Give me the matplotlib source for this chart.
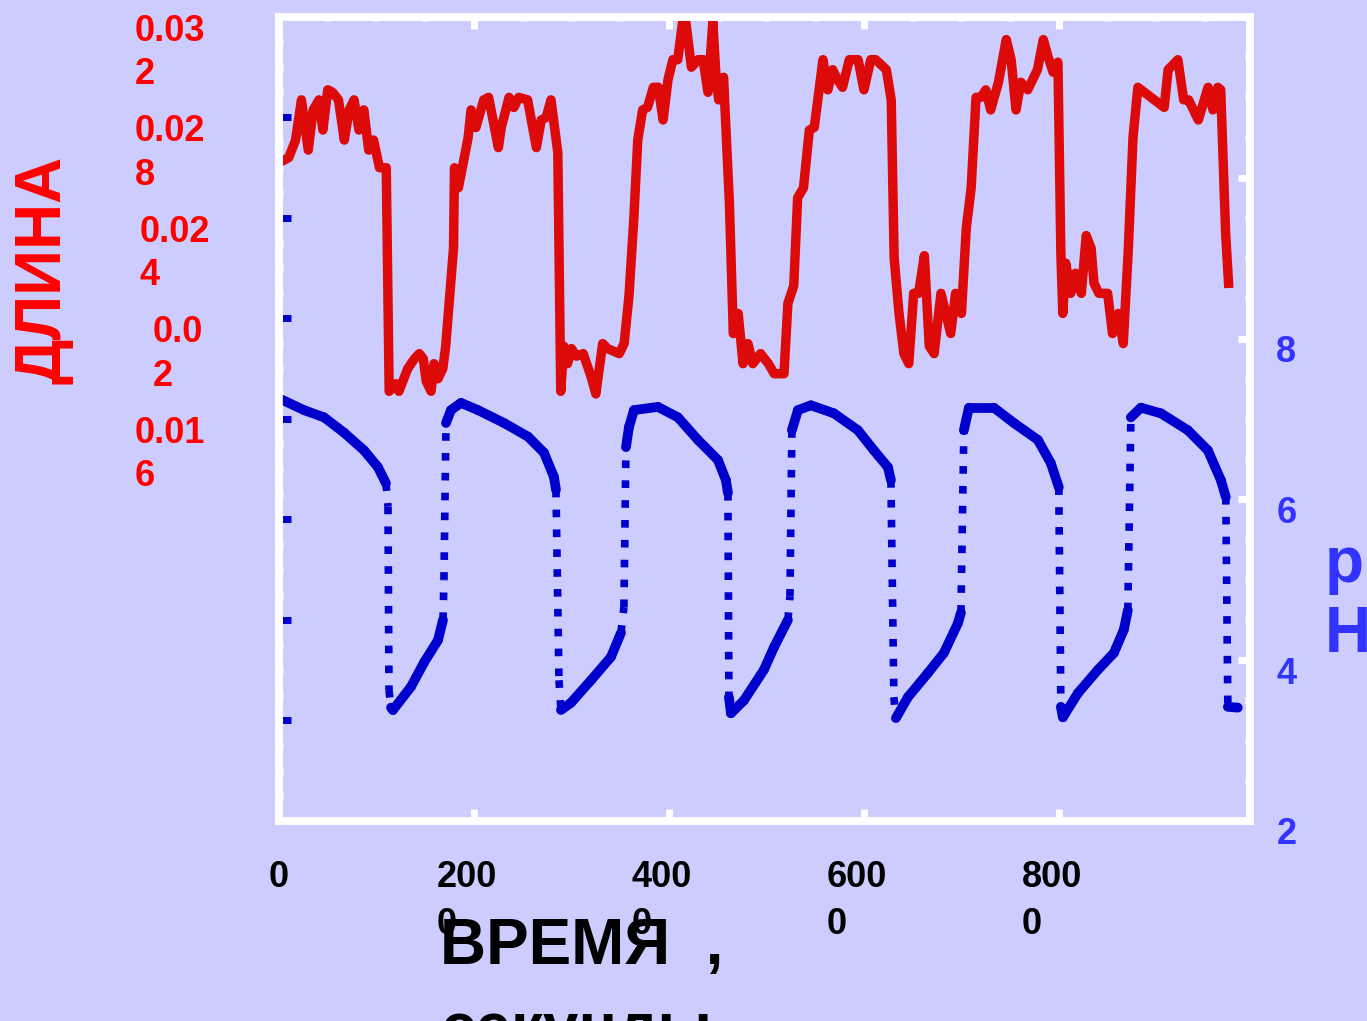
import numpy as np
import matplotlib
matplotlib.use("Agg")
import matplotlib.pyplot as plt
from matplotlib.ticker import MultipleLocator
from matplotlib.transforms import ScaledTranslation

plt.rcParams['font.family'] = ['Liberation Sans', 'DejaVu Sans']
plt.rcParams['font.weight'] = 'bold'
plt.rcParams['axes.labelweight'] = 'bold'

# length signal (left axis), time in seconds
red_t = [50, 100, 170, 230, 300, 350, 410, 450, 500, 550, 610, 670, 720, 770, 820, 870,
         920, 970, 1030, 1100, 1130, 1200, 1230, 1320, 1390, 1440, 1480, 1510, 1560, 1590,
         1630, 1680, 1710, 1790, 1800, 1840, 1870, 1940, 1970, 2020, 2100, 2150, 2250, 2280,
         2360, 2410, 2460, 2550, 2640, 2690, 2740, 2790, 2860, 2890, 2920, 2960, 3000, 3050,
         3120, 3200, 3250, 3320, 3370, 3490, 3540, 3590, 3640, 3680, 3730, 3780, 3840, 3890,
         3940, 3990, 4040, 4090, 4140, 4170, 4230, 4300, 4350, 4400, 4450, 4480, 4510, 4560,
         4620, 4660, 4710, 4760, 4810, 4860, 4940, 5020, 5080, 5180, 5220, 5280, 5320, 5380,
         5440, 5490, 5580, 5630, 5680, 5730, 5780, 5850, 5940, 6000, 6070, 6120, 6230, 6280,
         6310, 6360, 6410, 6460, 6510, 6560, 6620, 6670, 6720, 6790, 6840, 6890, 6940, 7000,
         7050, 7100, 7150, 7200, 7250, 7300, 7380, 7460, 7510, 7560, 7610, 7680, 7780, 7840,
         7890, 7940, 7990, 8020, 8040, 8070, 8120, 8170, 8230, 8280, 8330, 8360, 8410, 8500,
         8550, 8610, 8660, 8710, 8760, 8810, 9080, 9120, 9220, 9280, 9330, 9430, 9530, 9580,
         9630, 9660, 9710, 9740]
red_len = [0.0263, 0.0264, 0.0271, 0.0287, 0.0267, 0.0283, 0.0287, 0.0275, 0.0291, 0.0290,
           0.0287, 0.0271, 0.0283, 0.0287, 0.0275, 0.0283, 0.0267, 0.0271, 0.0260, 0.0260,
           0.0171, 0.0174, 0.0171, 0.0180, 0.0184, 0.0186, 0.0184, 0.0175, 0.0171, 0.0182,
           0.0176, 0.0180, 0.0189, 0.0228, 0.0260, 0.0252, 0.0258, 0.0272, 0.0283, 0.0276,
           0.0287, 0.0288, 0.0268, 0.0276, 0.0288, 0.0284, 0.0288, 0.0287, 0.0268, 0.0279,
           0.0280, 0.0287, 0.0266, 0.0171, 0.0189, 0.0182, 0.0188, 0.0185, 0.0186, 0.0177,
           0.0170, 0.0190, 0.0188, 0.0186, 0.0190, 0.0209, 0.0240, 0.0271, 0.0283, 0.0284,
           0.0292, 0.0292, 0.0279, 0.0295, 0.0303, 0.0303, 0.0318, 0.0319, 0.0300, 0.0303,
           0.0303, 0.0290, 0.0318, 0.0298, 0.0287, 0.0296, 0.0246, 0.0194, 0.0202, 0.0182,
           0.0190, 0.0182, 0.0186, 0.0182, 0.0178, 0.0178, 0.0206, 0.0213, 0.0248, 0.0252,
           0.0275, 0.0276, 0.0303, 0.0291, 0.0299, 0.0295, 0.0292, 0.0303, 0.0303, 0.0291,
           0.0303, 0.0303, 0.0299, 0.0287, 0.0224, 0.0202, 0.0186, 0.0182, 0.0210, 0.0210,
           0.0225, 0.0189, 0.0186, 0.0210, 0.0202, 0.0194, 0.0210, 0.0202, 0.0236, 0.0252,
           0.0288, 0.0288, 0.0291, 0.0283, 0.0294, 0.0311, 0.0303, 0.0283, 0.0294, 0.0291,
           0.0299, 0.0311, 0.0304, 0.0298, 0.0302, 0.0226, 0.0202, 0.0222, 0.0210, 0.0218,
           0.0210, 0.0233, 0.0228, 0.0214, 0.0210, 0.0210, 0.0194, 0.0202, 0.0190, 0.0226,
           0.0272, 0.0292, 0.0284, 0.0299, 0.0303, 0.0287, 0.0287, 0.0279, 0.0292, 0.0283,
           0.0292, 0.0291, 0.0234, 0.0214]

# pH signal (right axis)
ph_t = [30, 256, 462, 667, 872, 1015, 1097, 1118, 1128, 1149, 1169, 1354, 1487, 1631, 1682,
        1692, 1713, 1764, 1867, 2041, 2308, 2554, 2718, 2820, 2841, 2872, 2892, 2995, 3200,
        3405, 3508, 3538, 3559, 3590, 3641, 3887, 4092, 4297, 4502, 4584, 4605, 4615, 4636,
        4769, 4974, 5077, 5220, 5241, 5261, 5323, 5456, 5692, 5938, 6102, 6246, 6277, 6307,
        6328, 6451, 6656, 6820, 6964, 6995, 7025, 7077, 7333, 7538, 7784, 7917, 7999, 8020,
        8041, 8195, 8400, 8564, 8666, 8707, 8738, 8841, 9046, 9323, 9528, 9661, 9712, 9733,
        9835]
ph = [7.24, 7.11, 7.02, 6.83, 6.61, 6.40, 6.20, 5.91, 3.63, 3.41, 3.38, 3.67, 3.97, 4.25,
      4.50, 5.00, 6.95, 7.11, 7.20, 7.11, 6.95, 6.78, 6.58, 6.28, 6.12, 3.75, 3.38, 3.47,
      3.75, 4.04, 4.34, 4.66, 6.65, 6.90, 7.11, 7.15, 7.02, 6.74, 6.49, 6.24, 6.08, 3.54,
      3.34, 3.50, 3.88, 4.16, 4.50, 4.79, 6.86, 7.11, 7.17, 7.07, 6.86, 6.61, 6.40, 6.24,
      3.54, 3.28, 3.54, 3.84, 4.09, 4.46, 4.59, 6.86, 7.14, 7.14, 6.95, 6.74, 6.45, 6.15,
      3.42, 3.29, 3.59, 3.88, 4.09, 4.38, 4.62, 7.02, 7.14, 7.07, 6.86, 6.61, 6.24, 6.03,
      3.42, 3.41]

x_ticks = [0, 2000, 4000, 6000, 8000]
x_labels = ['0', '200\n0', '400\n0', '600\n0', '800\n0']
len_ticks = [0.032, 0.028, 0.024, 0.020, 0.016, 0.012, 0.008, 0.004, 0.0]
len_labels = ['0.03\n2', '0.02\n8', '0.02\n4', '0.0\n2', '0.01\n6', '', '', '', '']
ph_ticks = [2, 4, 6, 8, 10, 12]
ph_labels = ['2', '4', '6', '8', '', '']

bg = '#CCCCFF'
red = '#DD0A0A'
blue = '#0000CC'

fig = plt.figure(figsize=(13.67, 10.21), dpi=100, facecolor=bg)
ax = fig.add_axes([0.2041, 0.1959, 0.7103, 0.7875])
ax.set_facecolor(bg)
ax2 = ax.twinx()

ax.plot(red_t, red_len, color=red, lw=6.8)

# steep parts of the pH trace come out dotted, the rest solid
for i in range(len(ph_t) - 1):
    slope = abs(ph[i + 1] - ph[i]) / (ph_t[i + 1] - ph_t[i])
    seg_t = ph_t[i:i + 2]
    seg_p = ph[i:i + 2]
    if slope > 0.01:
        ax2.plot(seg_t, seg_p, color=blue, lw=5.5, ls=(0, (1, 1.6)), dash_capstyle='butt')
    else:
        ax2.plot(seg_t, seg_p, color=blue, lw=7, solid_capstyle='round')

ax.set_xlim(0, 9960)
ax.set_ylim(0, 0.032)
ax2.set_ylim(2, 12)

ax.set_xticks(x_ticks, labels=x_labels)
ax.xaxis.set_minor_locator(MultipleLocator(500))
ax.set_yticks(len_ticks, labels=len_labels)
ax.yaxis.set_minor_locator(MultipleLocator(0.001))
ax2.set_yticks(ph_ticks, labels=ph_labels)
ax2.yaxis.set_minor_locator(MultipleLocator(0.5))

ax.tick_params(axis='x', which='both', direction='in', top=True, bottom=True,
               color='white', width=5, labelcolor='black', labelsize=26, pad=28)
ax.tick_params(axis='x', which='major', length=8.6)
ax.tick_params(axis='x', which='minor', length=3)
ax.tick_params(axis='y', which='major', direction='in', left=True, right=False,
               color=blue, length=8.6, width=5, labelcolor='#FF0000', labelsize=26, pad=103.7)
ax.tick_params(axis='y', which='minor', direction='in', left=True, right=False,
               color='white', length=3.2, width=5)
ax2.tick_params(axis='y', which='both', direction='in', right=True, left=False,
                color='white', width=5, labelcolor='#3333FF', labelsize=26, pad=19)
ax2.tick_params(axis='y', which='major', length=8.6)
ax2.tick_params(axis='y', which='minor', length=3.5)

for tick, loc in zip(ax.yaxis.get_minor_ticks(), ax.yaxis.get_minorticklocs()):
    if loc < 0.0072:
        tick.tick1line.set_color(blue)

for a in (ax, ax2):
    for sp in a.spines.values():
        sp.set_color('white')
        sp.set_linewidth(5.5)

x_dx = [0, -7, -7, -7, -7]
for lbl, dx in zip(ax.get_xticklabels(), x_dx):
    lbl.set_multialignment('left')
    lbl.set_linespacing(1.45)
    lbl.set_transform(lbl.get_transform() + ScaledTranslation(dx / 100, 0, fig.dpi_scale_trans))

y_dx = [0, 0, 5, 18, 0, 0, 0, 0, 0]
for lbl, dx in zip(ax.get_yticklabels(), y_dx):
    lbl.set_ha('left')
    lbl.set_va('top')
    lbl.set_multialignment('left')
    lbl.set_linespacing(1.3)
    lbl.set_transform(lbl.get_transform() + ScaledTranslation(dx / 100, 3 / 100, fig.dpi_scale_trans))

for lbl in ax2.get_yticklabels():
    lbl.set_transform(lbl.get_transform() + ScaledTranslation(0, -10 / 100, fig.dpi_scale_trans))

ax.set_ylabel('ДЛИНА', color='#FF0000', fontsize=46, fontweight='bold', rotation=90,
              ha='center', va='center')
ax.yaxis.set_label_coords(-0.243, 0.685)
ax2.set_ylabel('p\nH', color='#3333FF', fontsize=46, fontweight='bold', rotation=0,
               ha='left', va='center', multialignment='left')
ax2.yaxis.set_label_coords(1.077, 0.275)
ax.set_xlabel('ВРЕМЯ  ,\nсекунды', fontsize=46, fontweight='bold', color='black',
              ha='left', va='top', multialignment='left', linespacing=1.5)
ax.xaxis.set_label_coords(0.166, -0.12)

fig.savefig('out.png', dpi=100, facecolor=bg)
